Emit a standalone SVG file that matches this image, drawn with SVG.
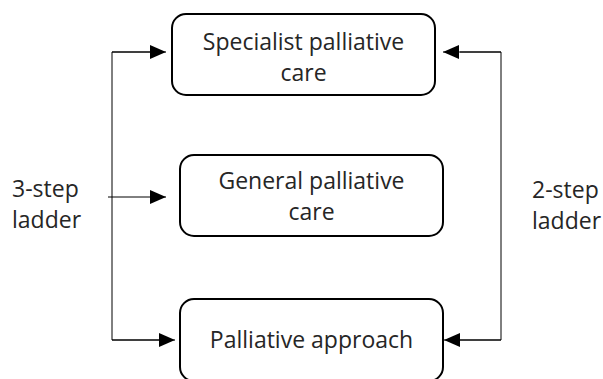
<svg xmlns="http://www.w3.org/2000/svg" width="603" height="379" viewBox="0 0 603 379">
<style>
.box{fill:#fff;stroke:#000;stroke-width:2}
.t{font-family:"Open Sans","Noto Sans",sans-serif;font-size:23px;fill:#262626;text-anchor:middle}
.l{font-family:"Open Sans","Noto Sans",sans-serif;font-size:23px;fill:#262626}
.c{fill:none;stroke:#000;stroke-width:1}
</style>
<defs>
<marker id="ah" markerWidth="16" markerHeight="14" refX="16" refY="7" orient="auto" markerUnits="userSpaceOnUse">
<path d="M0,0 L16,7 L0,14 Z" fill="#000"/>
</marker>
</defs>
<rect width="603" height="379" fill="#fff"/>
<g id="node-specialist">
<rect class="box" x="172" y="14" width="263" height="81" rx="14"/>
<text class="t" x="303.5" y="50">Specialist palliative</text>
<text class="t" x="303.5" y="81">care</text>
</g>
<g id="node-general">
<rect class="box" x="180" y="155" width="263" height="81" rx="14"/>
<text class="t" x="311.5" y="189">General palliative</text>
<text class="t" x="311.5" y="220">care</text>
</g>
<g id="node-approach">
<rect class="box" x="180" y="299" width="263" height="82" rx="14"/>
<text class="t" x="311.5" y="348">Palliative approach</text>
</g>
<g id="label-3step">
<text class="l" x="12" y="197">3-step</text>
<text class="l" x="12" y="228">ladder</text>
</g>
<g id="label-2step">
<text class="l" x="532" y="198">2-step</text>
<text class="l" x="532" y="229">ladder</text>
</g>
<g id="connectors">
<polyline class="c" points="150,52 112,52 112,340 160,340"/>
<line class="c" x1="112" y1="52" x2="166" y2="52" marker-end="url(#ah)"/>
<line class="c" x1="108" y1="197" x2="166" y2="197" marker-end="url(#ah)"/>
<line class="c" x1="112" y1="340" x2="175" y2="340" marker-end="url(#ah)"/>
<polyline class="c" points="460,52 501,52 501,340 460,340"/>
<line class="c" x1="501" y1="52" x2="443" y2="52" marker-end="url(#ah)"/>
<line class="c" x1="501" y1="340" x2="444" y2="340" marker-end="url(#ah)"/>
</g>
</svg>
